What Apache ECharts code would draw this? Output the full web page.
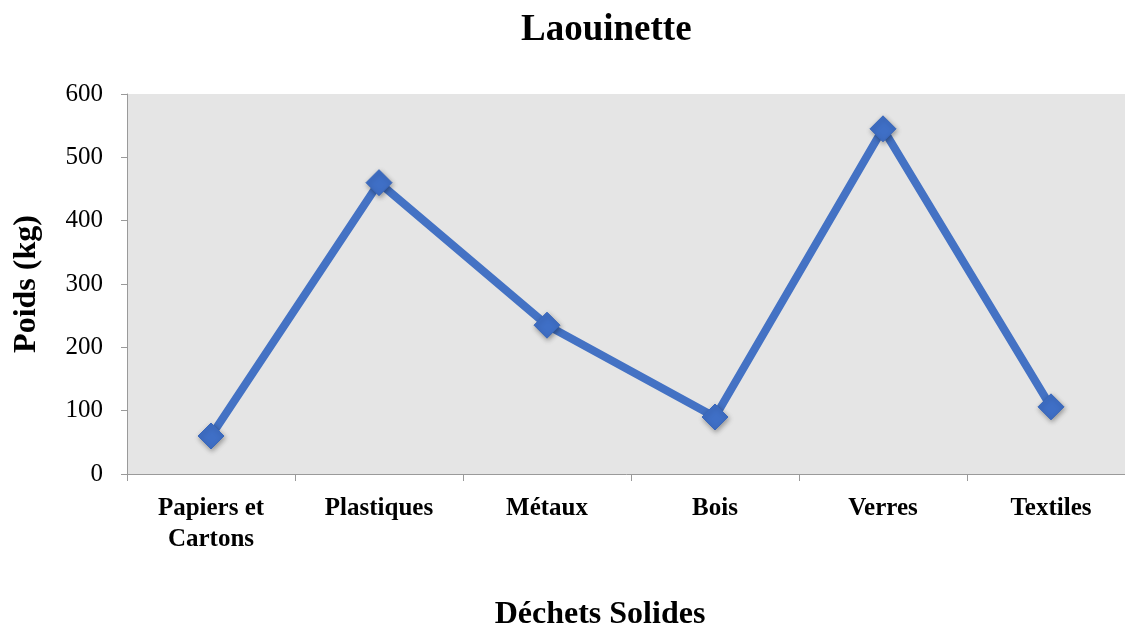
<!DOCTYPE html>
<html>
<head>
<meta charset="utf-8">
<script src="https://cdn.jsdelivr.net/npm/echarts@6/dist/echarts.min.js"></script>
<style>
  html, body { margin: 0; padding: 0; background: #fff; }
  #chart { width: 1125px; height: 625px; }
</style>
</head>
<body>
<div id="chart"></div>
<script>
// données
const categories = ["Papiers et\nCartons", "Plastiques", "Métaux", "Bois", "Verres", "Textiles"];
const poids = [60, 460, 235, 90, 545, 106];
const yTicks = [0, 100, 200, 300, 400, 500, 600];

const font = "'Liberation Serif', 'Times New Roman', serif";
const chart = echarts.init(document.getElementById("chart"));

chart.setOption({
  backgroundColor: "#fff",
  animation: false,
  title: {
    text: "Laouinette",
    left: 516,
    top: 7,
    textStyle: { fontFamily: font, fontSize: 37, fontWeight: "bold", color: "#000" },
  },
  grid: {
    left: 127,
    top: 94,
    bottom: 151,
    width: 1008,
    outerBoundsMode: "none",
    show: true,
    backgroundColor: "#e5e5e5",
    borderWidth: 0,
  },
  xAxis: {
    type: "category",
    data: categories,
    boundaryGap: true,
    name: "Déchets Solides",
    nameLocation: "middle",
    nameGap: 125,
    nameTextStyle: {
      fontFamily: font, fontSize: 32, fontWeight: "bold", color: "#000",
      padding: [0, 62, 0, 0],
    },
    axisLine: { lineStyle: { color: "#9a9a9a", width: 1 } },
    axisTick: { show: true, length: 7, alignWithLabel: false, lineStyle: { color: "#9a9a9a" } },
    axisLabel: {
      fontFamily: font,
      fontSize: 25,
      fontWeight: "bold",
      color: "#000",
      margin: 19,
      lineHeight: 31,
      interval: 0,
    },
    splitLine: { show: false },
  },
  yAxis: {
    type: "value",
    min: yTicks[0],
    max: yTicks[yTicks.length - 1],
    interval: 100,
    name: "Poids (kg)",
    nameLocation: "middle",
    nameGap: 84,
    nameTextStyle: { fontFamily: font, fontSize: 32, fontWeight: "bold", color: "#000" },
    axisLine: { show: true, lineStyle: { color: "#9a9a9a", width: 1 } },
    axisTick: { show: true, length: 6, lineStyle: { color: "#9a9a9a" } },
    axisLabel: { fontFamily: font, fontSize: 25, color: "#000", margin: 24 },
    splitLine: { show: false },
  },
  series: [
    {
      type: "line",
      data: poids,
      symbol: "diamond",
      symbolSize: 26,
      lineStyle: { color: "#4472c4", width: 8 },
      itemStyle: {
        color: "#3f6fc6",
        borderColor: "#3a68bb",
        borderWidth: 1,
        shadowColor: "rgba(0,0,0,0.35)",
        shadowBlur: 5,
        shadowOffsetX: 1,
        shadowOffsetY: 2,
      },
      z: 3,
    },
  ],
});
</script>
</body>
</html>
